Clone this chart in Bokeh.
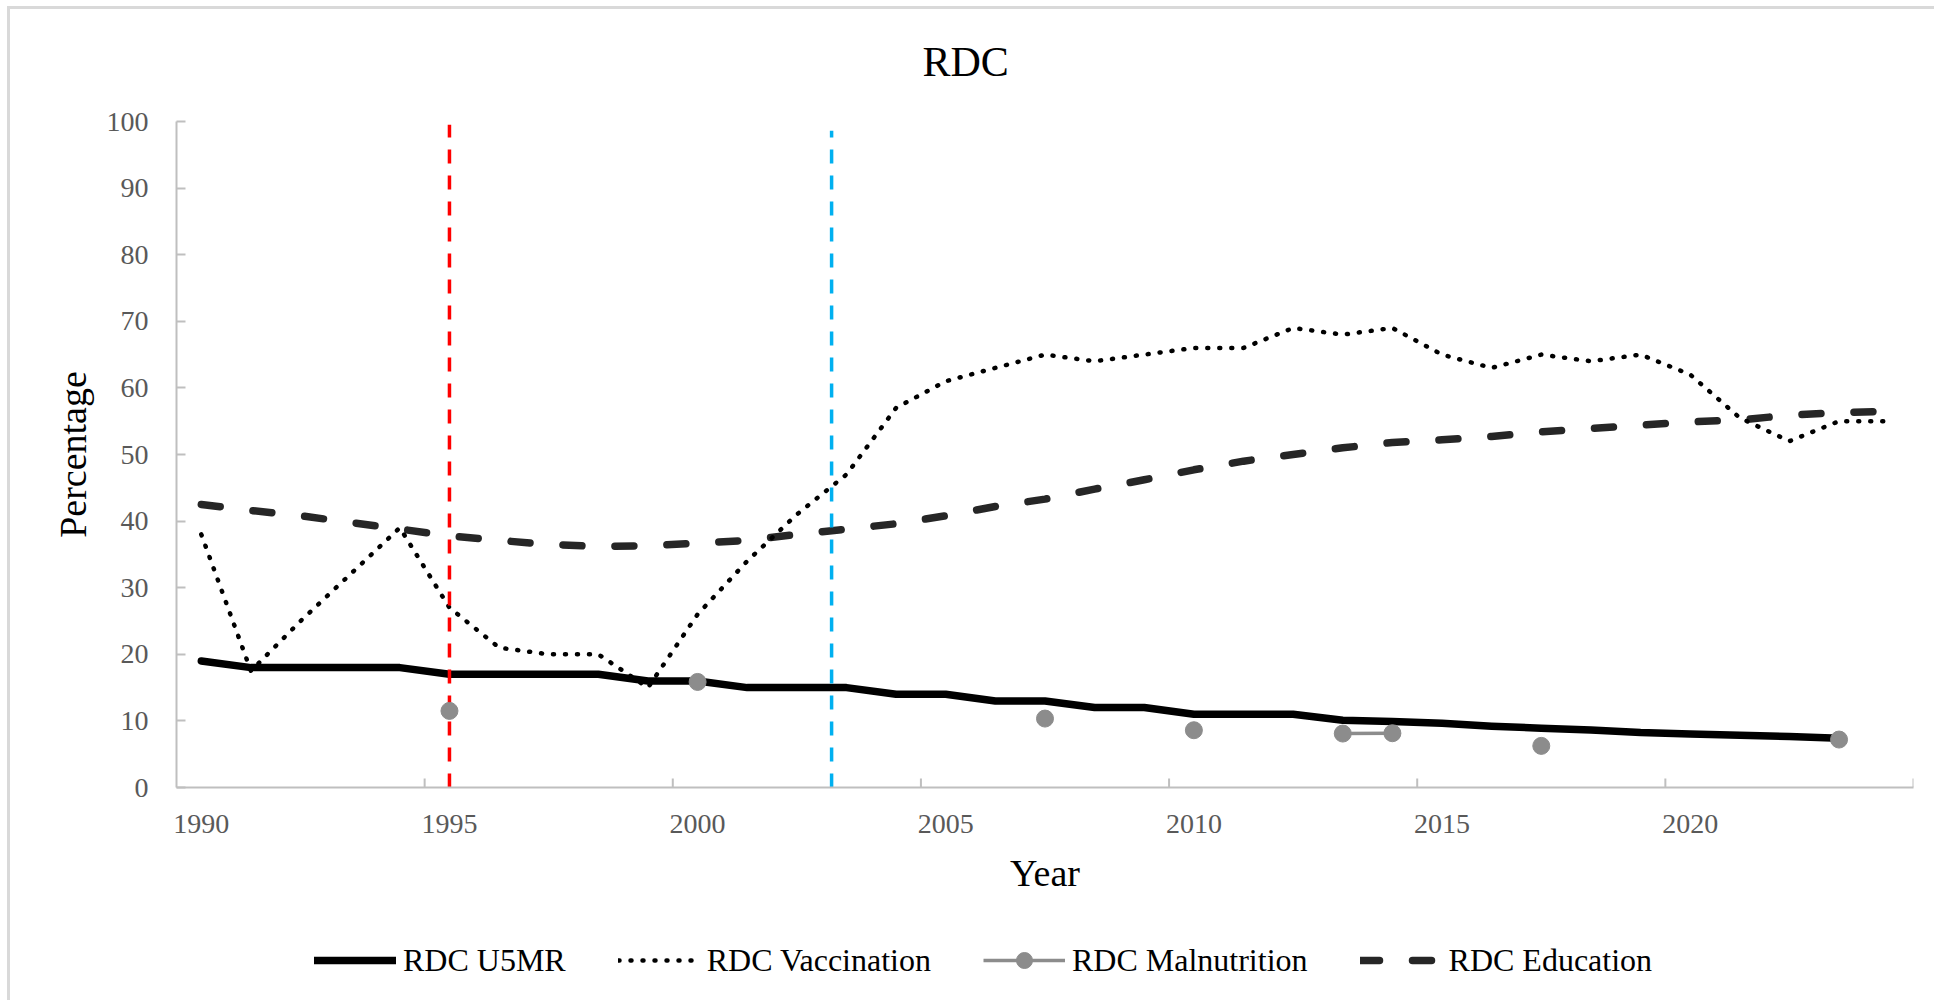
from bokeh.plotting import figure
from bokeh.layouts import column
from bokeh.models import FixedTicker, Legend, LegendItem
from bokeh.embed import file_html
from bokeh.resources import INLINE

# ---- data -------------------------------------------------------------
years = list(range(1990, 2025))

u5mr = [19.0, 18.0, 18.0, 18.0, 18.0, 17.0, 17.0, 17.0, 17.0, 16.0,
        16.0, 15.0, 15.0, 15.0, 14.0, 14.0, 13.0, 13.0, 12.0, 12.0,
        11.0, 11.0, 11.0, 10.1, 9.9, 9.65, 9.2, 8.9, 8.65, 8.25,
        8.05, 7.85, 7.65, 7.4, float("nan")]

vaccination = [38.0, 17.5, 25.0, 32.0, 39.0, 27.0, 21.0, 20.0, 20.0, 15.0,
               26.0, 34.0, 41.0, 47.0, 57.0, 61.0, 63.0, 65.0, 64.0, 65.0,
               66.0, 66.0, 69.0, 68.0, 69.0, 65.0, 63.0, 65.0, 64.0, 65.0,
               62.0, 55.5, 52.0, 55.0, 55.0]

education = [42.5, 41.6, 40.8, 39.8, 38.8, 37.8, 37.1, 36.5, 36.2, 36.3,
             36.7, 37.1, 38.0, 38.8, 39.6, 40.8, 42.2, 43.3, 44.8, 46.2,
             47.7, 49.0, 50.0, 51.0, 51.8, 52.2, 52.7, 53.4, 53.9, 54.4,
             54.9, 55.2, 55.9, 56.3, 56.5]

malnutrition_years = [1995, 2000, 2007, 2010, 2013, 2014, 2017, 2023]
malnutrition_values = [11.5, 15.85, 10.35, 8.6, 8.1, 8.15, 6.25, 7.2]

tick_years = [1990, 1995, 2000, 2005, 2010, 2015, 2020]
y_ticks = list(range(0, 101, 10))

# reference years marked with vertical dashed lines
event_years = [1995, 2002.7]
event_tops = [99.5, 98.6]
event_colors = ["#FF0000", "#00B0F0"]

# malnutrition surveys only exist for some years: gaps break the line
mal_lookup = dict(zip(malnutrition_years, malnutrition_values))
malnutrition = [mal_lookup.get(y, float("nan")) for y in years]

SERIF = "Liberation Serif"
AXIS_GREY = "#BFBFBF"
LABEL_GREY = "#595959"

# line styles shared by the chart and its legend strip
STYLES = {
    "u5mr": dict(line_color="black", line_width=7.5,
                 line_join="round", line_cap="round"),
    "edu": dict(line_color="#262626", line_width=7.5, line_dash="19 33",
                line_cap="round", line_join="round"),
    "vac": dict(line_color="black", line_width=4.5, line_dash="1 11",
                line_cap="round", line_join="round"),
    "mal_line": dict(line_color="#8C8C8C", line_width=3.5),
    "mal_pts": dict(size=17, marker="circle", fill_color="#8C8C8C",
                    line_color="#8C8C8C"),
}

# ---- main chart -------------------------------------------------------
p = figure(width=1934, height=920,
           x_range=(1989.5, 2024.5), y_range=(0, 100),
           output_backend="svg", toolbar_location=None,
           min_border_left=176, min_border_right=21,
           min_border_top=121, min_border_bottom=133,
           background_fill_color="white", border_fill_color="white",
           outline_line_color=None, title="RDC")

p.xgrid.visible = False
p.ygrid.visible = False

p.title.text_font = SERIF
p.title.text_font_size = "42px"
p.title.text_font_style = "normal"
p.title.text_color = "black"
p.title.align = "left"
p.title.vertical_align = "middle"
p.title.offset = 746
p.title.standoff = 72

for ax in (p.xaxis[0], p.yaxis[0]):
    ax.axis_line_color = AXIS_GREY
    ax.axis_line_width = 2
    ax.major_tick_line_color = AXIS_GREY
    ax.major_tick_line_width = 2
    ax.minor_tick_line_color = None
    ax.major_label_text_font = SERIF
    ax.major_label_text_font_size = "28px"
    ax.major_label_text_color = LABEL_GREY
    ax.axis_label_text_font = SERIF
    ax.axis_label_text_font_size = "38px"
    ax.axis_label_text_font_style = "normal"
    ax.axis_label_text_color = "black"

p.yaxis.ticker = FixedTicker(ticks=y_ticks)
p.yaxis.major_tick_in = 9
p.yaxis.major_tick_out = 0
p.yaxis.major_label_standoff = 28
p.yaxis.axis_label = "Percentage"
p.yaxis.axis_label_standoff = 10

p.xaxis.ticker = FixedTicker(ticks=tick_years)
p.xaxis.major_tick_in = 0
p.xaxis.major_tick_out = 0
p.xaxis.major_label_standoff = 27
p.xaxis.axis_label = "Year"
p.xaxis.axis_label_standoff = 16

# x tick marks sit on the boundaries between year categories
tick_bounds = [t - 0.5 for t in tick_years[1:]] + [tick_years[-1] + 4.5]
p.segment(x0=tick_bounds, y0=[0] * len(tick_bounds),
          x1=tick_bounds, y1=[1.35] * len(tick_bounds),
          line_color=AXIS_GREY, line_width=2)

p.line(years, u5mr, **STYLES["u5mr"])
p.line(years, education, **STYLES["edu"])
p.line(years, vaccination, **STYLES["vac"])

for ex, top, col in zip(event_years, event_tops, event_colors):
    p.segment(x0=[ex], y0=[0], x1=[ex], y1=[top],
              line_color=col, line_width=3.5, line_dash="14 12")

p.line(years, malnutrition, **STYLES["mal_line"])
p.scatter(malnutrition_years, malnutrition_values, **STYLES["mal_pts"])

# ---- legend strip under the chart -------------------------------------
# The strip's ranges keep its copies of the series out of view, so only
# the legend keys and labels show.
lg = figure(width=1934, height=80, x_range=(0, 1), y_range=(0, 1),
            output_backend="svg", toolbar_location=None,
            x_axis_type=None, y_axis_type=None,
            min_border_left=0, min_border_right=0,
            min_border_top=0, min_border_bottom=0,
            background_fill_color="white", border_fill_color="white",
            outline_line_color=None)

k_u5 = lg.line(years, u5mr, **STYLES["u5mr"])
k_vac = lg.line(years, vaccination, **STYLES["vac"])
k_mal_line = lg.line(years, malnutrition, **STYLES["mal_line"])
k_mal_pts = lg.scatter(malnutrition_years, malnutrition_values,
                       **STYLES["mal_pts"])
k_edu = lg.line(years, education, **STYLES["edu"])

legend = Legend(items=[
    LegendItem(label="RDC U5MR", renderers=[k_u5]),
    LegendItem(label="RDC Vaccination", renderers=[k_vac]),
    LegendItem(label="RDC Malnutrition", renderers=[k_mal_line, k_mal_pts]),
    LegendItem(label="RDC Education", renderers=[k_edu]),
], orientation="horizontal", location=(138, 20),
    padding=0, margin=0, spacing=52,
    glyph_width=82, glyph_height=40, label_standoff=7,
    label_text_font=SERIF, label_text_font_size="32px",
    label_text_color="black",
    background_fill_alpha=0, border_line_alpha=0)
lg.add_layout(legend)

layout = column(p, lg, spacing=0)

html = file_html(layout, INLINE, title="RDC")
# light chart-area border along the top and left edges of the page
frame_div = ('<div style="position:absolute;left:7px;top:6px;right:0;bottom:0;'
             'border-left:3px solid #D9D9D9;border-top:3px solid #D9D9D9;'
             'pointer-events:none;z-index:10"></div>')
cut = html.rfind("</body>")
html = html[:cut] + frame_div + "\n" + html[cut:]
open("out.html", "w").write(html)
